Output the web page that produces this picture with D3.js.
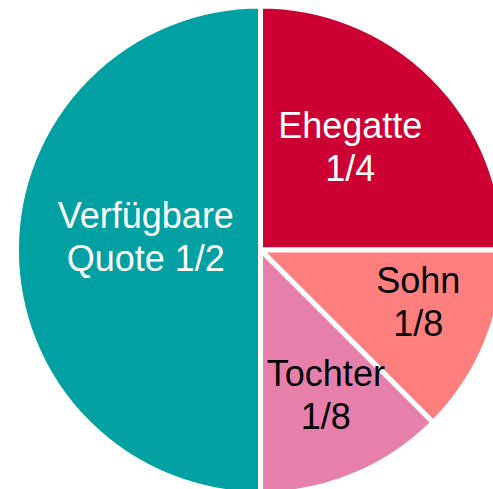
<!DOCTYPE html>
<html>
<head>
<meta charset="utf-8">
<script src="https://cdn.jsdelivr.net/npm/d3@7"></script>
<style>
html,body{margin:0;padding:0;background:#fff;overflow:hidden;}
svg{display:block;}
text{font-family:"Liberation Sans", Arial, sans-serif;}
</style>
</head>
<body>
<svg id="chart" width="493" height="489"></svg>
<script>
const categories = ["Ehegatte", "Sohn", "Tochter", "Verfügbare Quote"];
const shares = [1/4, 1/8, 1/8, 1/2];
const shareLabels = ["1/4", "1/8", "1/8", "1/2"];
const labelLines = [["Ehegatte", "1/4"], ["Sohn", "1/8"], ["Tochter", "1/8"], ["Verfügbare", "Quote 1/2"]];
const colors = ["#CC0033", "#FF7F7F", "#E680AB", "#00A0A3"];
const textColors = ["#ffffff", "#000000", "#000000", "#ffffff"];

const W = 493, H = 489;
const cx = 260.5, cy = 250, R = 244;
const labelRadiusFrac = [0.52, 0.70, 0.70, 0.47];

const svg = d3.select("#chart");
const g = svg.append("g").attr("transform", `translate(${cx},${cy})`);

const pie = d3.pie().sort(null).value(d => d);
const arcs = pie(shares);
const arc = d3.arc().innerRadius(0).outerRadius(R);

g.selectAll("path.slice").data(arcs).enter().append("path")
  .attr("class", "slice")
  .attr("d", arc)
  .attr("fill", (d, i) => colors[i])
  .attr("stroke", "#ffffff")
  .attr("stroke-width", 5)
  .attr("stroke-linejoin", "miter");

const labels = g.selectAll("text.lbl").data(arcs).enter().append("text")
  .attr("class", "lbl")
  .attr("font-size", 36)
  .attr("text-anchor", "middle")
  .attr("fill", (d, i) => textColors[i])
  .attr("transform", (d, i) => {
    const r = R * labelRadiusFrac[i];
    const c = d3.arc().innerRadius(r).outerRadius(r).centroid(d);
    return `translate(${c[0]},${c[1]})`;
  });

labels.each(function(d, i) {
  const t = d3.select(this);
  labelLines[i].forEach((line, k) => {
    t.append("tspan").attr("x", 0).attr("y", k === 0 ? -22 : 21).text(line);
  });
});
</script>
</body>
</html>
